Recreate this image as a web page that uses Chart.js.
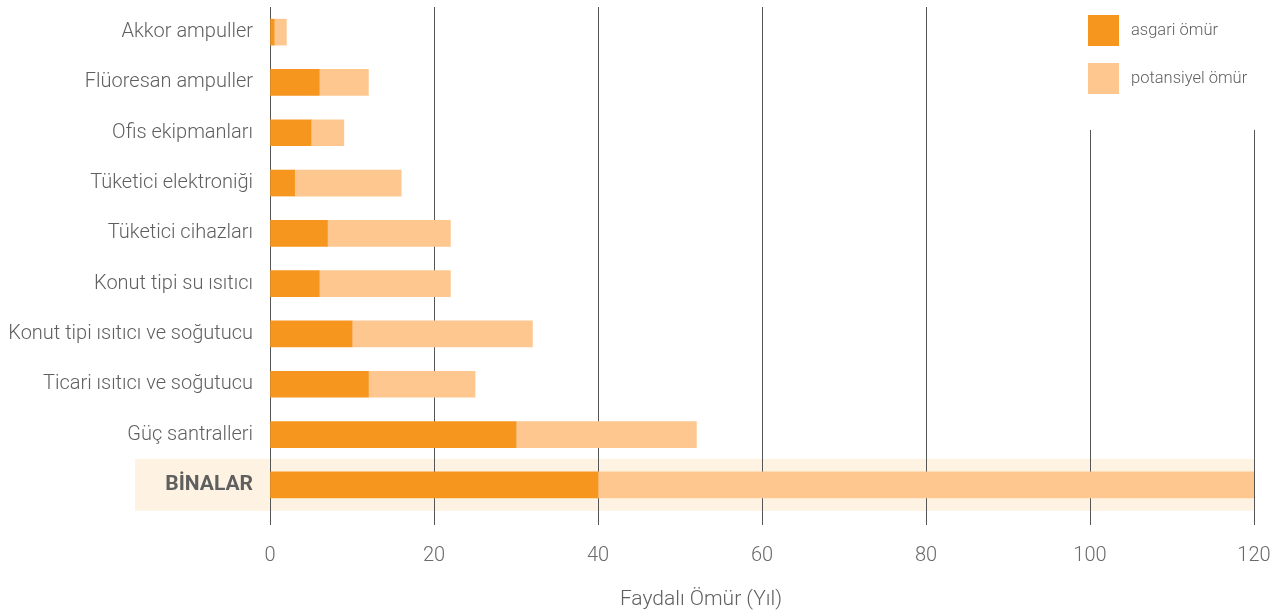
<!DOCTYPE html>
<html>
<head>
<meta charset="utf-8">
<script src="https://cdn.jsdelivr.net/npm/chart.js@4.4.1/dist/chart.umd.min.js"></script>
<style>
  html, body { margin: 0; padding: 0; background: #ffffff; }
  #wrap { width: 1284px; height: 613px; position: relative; }
</style>
</head>
<body>
<div id="wrap"><canvas id="c" width="1284" height="613"></canvas></div>
<script>
// Product categories (top to bottom)
const categories = [
  'Akkor ampuller',
  'Flüoresan ampuller',
  'Ofis ekipmanları',
  'Tüketici elektroniği',
  'Tüketici cihazları',
  'Konut tipi su ısıtıcı',
  'Konut tipi ısıtıcı ve soğutucu',
  'Ticari ısıtıcı ve soğutucu',
  'Güç santralleri',
  'BİNALAR'
];
// Minimum useful life (years)
const asgariOmur = [0.5, 6, 5, 3, 7, 6, 10, 12, 30, 40];
// Potential useful life (years, total)
const potansiyelOmur = [2, 12, 9, 16, 22, 22, 32, 25, 52, 120];
// X axis ticks
const xTicks = [0, 20, 40, 60, 80, 100, 120];
const seriesNames = ['asgari ömür', 'potansiyel ömür'];
const axisTitle = 'Faydalı Ömür (Yıl)';
const highlightIndex = 9;

const ORANGE = '#F6961F';
const LIGHT = '#FDC78F';
const BAND = '#FEF3E3';
const TEXT = '#5f5f5f';
const FONT = 'Roboto';

// extra segment stacked after the minimum life
const extra = potansiyelOmur.map((v, i) => v - asgariOmur[i]);

const highlightBand = {
  id: 'highlightBand',
  beforeDraw(chart) {
    const { ctx, chartArea, scales } = chart;
    const yc = scales.y.getPixelForValue(highlightIndex);
    ctx.save();
    ctx.fillStyle = BAND;
    ctx.fillRect(135, yc - 26, chartArea.right - 135, 52);
    ctx.restore();
  }
};

const sideLegend = {
  id: 'sideLegend',
  afterDraw(chart) {
    const { ctx } = chart;
    ctx.save();
    ctx.fillStyle = '#ffffff';
    ctx.fillRect(1075, 0, 209, 130);
    const colors = [ORANGE, LIGHT];
    ctx.font = '300 16.5px ' + FONT;
    ctx.textBaseline = 'middle';
    ctx.textAlign = 'left';
    chart.data.datasets.forEach((ds, i) => {
      const y = 15 + i * 48;
      ctx.fillStyle = colors[i];
      ctx.fillRect(1088, y, 31, 31);
      ctx.fillStyle = TEXT;
      ctx.fillText(ds.label, 1131, y + 16);
    });
    // axis title
    ctx.font = '300 21px ' + FONT;
    ctx.textAlign = 'center';
    ctx.fillStyle = TEXT;
    ctx.fillText(axisTitle, 701, 600);
    ctx.restore();
  }
};

new Chart(document.getElementById('c'), {
  type: 'bar',
  data: {
    labels: categories,
    datasets: [
      { label: seriesNames[0], data: asgariOmur, backgroundColor: ORANGE },
      { label: seriesNames[1], data: extra, backgroundColor: LIGHT }
    ]
  },
  options: {
    indexAxis: 'y',
    responsive: false,
    animation: false,
    devicePixelRatio: 1,
    barThickness: 26,
    layout: { padding: { top: 7, right: 30, bottom: 0, left: 0 } },
    plugins: { legend: { display: false }, tooltip: { enabled: false } },
    scales: {
      x: {
        stacked: true,
        min: 0,
        max: 120,
        afterBuildTicks(scale) { scale.ticks = xTicks.map(v => ({ value: v })); },
        afterFit(scale) { scale.height = 103; scale.paddingLeft = 0; scale.paddingRight = 0; },
        grid: { color: '#555555', lineWidth: 1, tickLength: 15, drawTicks: true, tickColor: '#555555' },
        border: { display: false },
        ticks: { color: '#6a6a6a', padding: 19, font: { family: FONT, size: 20, weight: '300' } }
      },
      y: {
        stacked: true,
        afterFit(scale) { scale.width = 270; scale.paddingTop = 0; scale.paddingBottom = 0; },
        grid: { display: false, drawTicks: false },
        border: { display: false },
        ticks: {
          padding: 17,
          color: TEXT,
          font: (c) => c.index === highlightIndex
            ? { family: FONT, size: 21, weight: 'bold' }
            : { family: FONT, size: 20, weight: '300' }
        }
      }
    }
  },
  plugins: [highlightBand, sideLegend]
});
</script>
</body>
</html>
